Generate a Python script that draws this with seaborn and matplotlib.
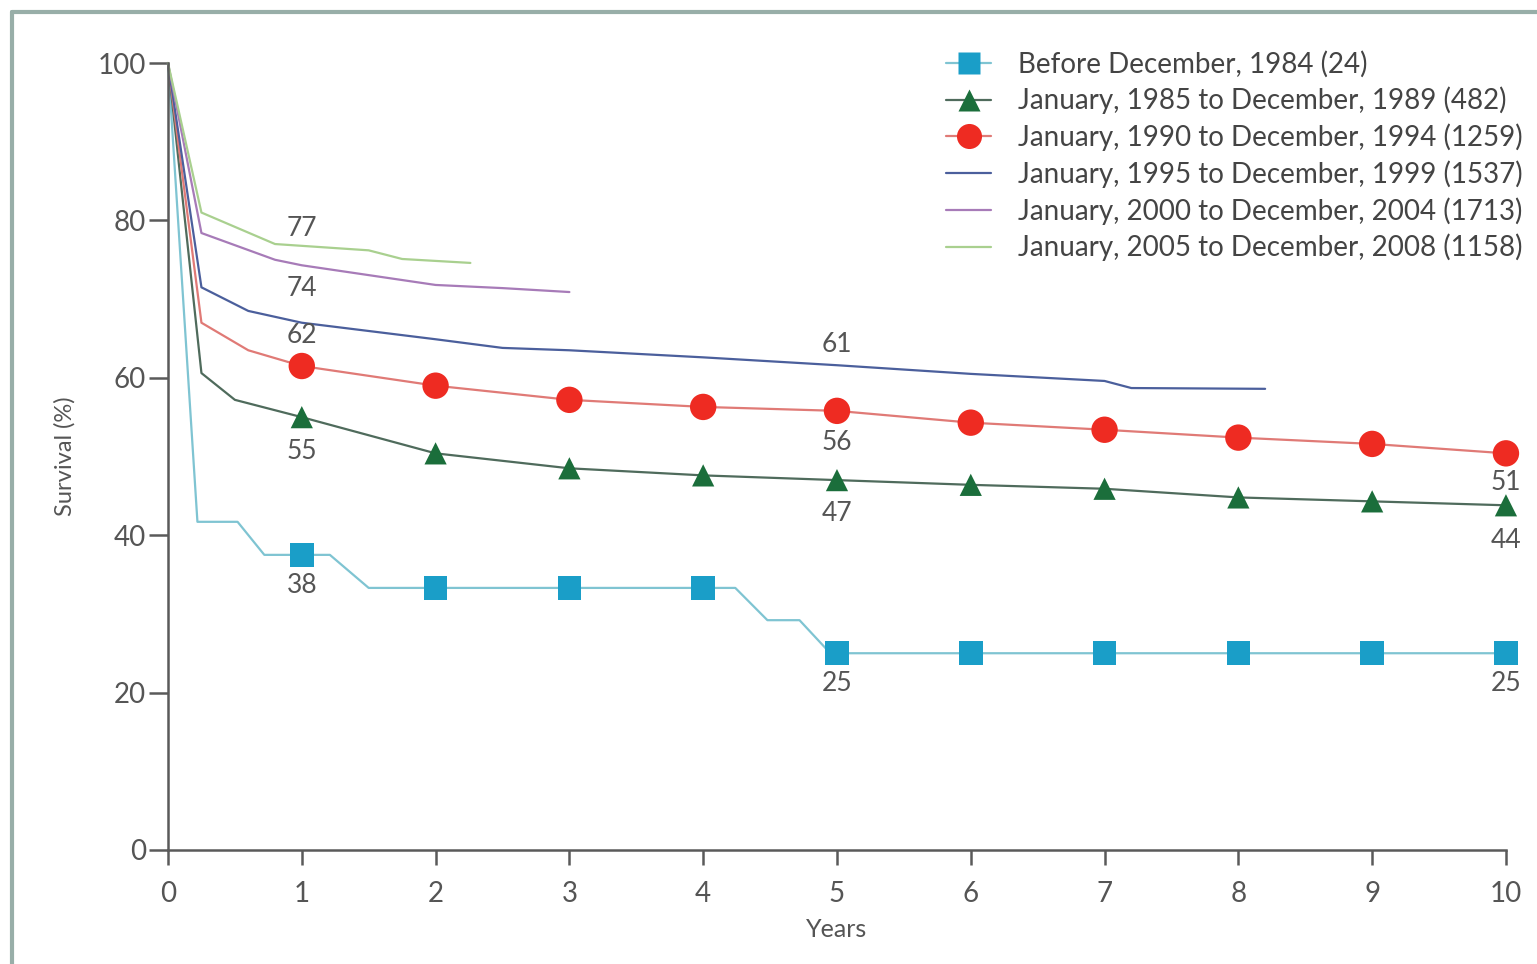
import matplotlib.pyplot as plt
from matplotlib.lines import Line2D
import numpy as np
import pandas as pd
import seaborn as sns

# survival curves (years, % surviving)
t_pre85 = [0, 0.22, 0.52, 0.72, 1.21, 1.5, 4.24, 4.48, 4.72, 4.95, 10]
s_pre85 = [100, 41.7, 41.7, 37.5, 37.5, 33.3, 33.3, 29.2, 29.2, 25.0, 25.0]
t_85_89 = [0, 0.25, 0.5, 1, 2, 3, 4, 5, 6, 7, 8, 9, 10]
s_85_89 = [100, 60.6, 57.2, 55.0, 50.4, 48.5, 47.6, 47.0, 46.4, 45.9, 44.8, 44.3, 43.8]
t_90_94 = [0, 0.25, 0.6, 1, 2, 3, 4, 5, 6, 7, 8, 9, 10]
s_90_94 = [100, 67.0, 63.5, 61.5, 59.0, 57.2, 56.3, 55.8, 54.3, 53.4, 52.4, 51.6, 50.4]
t_95_99 = [0, 0.25, 0.6, 1, 2, 2.5, 3, 4, 5, 6, 7, 7.2, 8.2]
s_95_99 = [100, 71.5, 68.5, 67.0, 64.9, 63.8, 63.5, 62.6, 61.6, 60.5, 59.6, 58.7, 58.6]
t_00_04 = [0, 0.25, 0.8, 1, 2, 2.5, 3]
s_00_04 = [100, 78.4, 75.0, 74.3, 71.8, 71.4, 70.9]
t_05_08 = [0, 0.25, 0.8, 1.5, 1.75, 2.26]
s_05_08 = [100, 81.0, 77.0, 76.2, 75.1, 74.6]

# yearly markers
years = [1, 2, 3, 4, 5, 6, 7, 8, 9, 10]
m_pre85 = [37.5, 33.3, 33.3, 33.3, 25.0, 25.0, 25.0, 25.0, 25.0, 25.0]
m_85_89 = [55.0, 50.4, 48.5, 47.6, 47.0, 46.4, 45.9, 44.8, 44.3, 43.8]
m_90_94 = [61.5, 59.0, 57.2, 56.3, 55.8, 54.3, 53.4, 52.4, 51.6, 50.4]

labels = [
    "Before December, 1984 (24)",
    "January, 1985 to December, 1989 (482)",
    "January, 1990 to December, 1994 (1259)",
    "January, 1995 to December, 1999 (1537)",
    "January, 2000 to December, 2004 (1713)",
    "January, 2005 to December, 2008 (1158)",
]

# (x, y, text, offset in points)
annots = [
    (1, 76.8, "77", 12),
    (1, 74.3, "74", -17),
    (1, 61.5, "62", 22),
    (5, 61.6, "61", 15),
    (1, 55.0, "55", -25),
    (5, 55.8, "56", -23),
    (5, 47.0, "47", -24),
    (1, 37.5, "38", -22),
    (5, 25.0, "25", -22),
    (10, 50.4, "51", -21),
    (10, 43.8, "44", -25),
    (10, 25.0, "25", -22),
]

sns.set_style("ticks")
plt.rcParams["font.family"] = ["Lato", "DejaVu Sans"]
grey = "#555555"

fig = plt.figure(figsize=(15.37, 9.64), dpi=100)
ax = fig.add_axes([0.1093, 0.1183, 0.8705, 0.8163])

series = [
    (t_pre85, s_pre85, "#7fc4d2", "#1a9ec8", "s", 17, m_pre85),
    (t_85_89, s_85_89, "#4f6b5c", "#1b6e3b", "^", 16, m_85_89),
    (t_90_94, s_90_94, "#e07a76", "#ee2b22", "o", 19, m_90_94),
    (t_95_99, s_95_99, "#4b5f9c", None, None, 0, None),
    (t_00_04, s_00_04, "#a77bb8", None, None, 0, None),
    (t_05_08, s_05_08, "#a9d08f", None, None, 0, None),
]

handles = []
for (t, s, lc, mc, mk, ms, mv), lab in zip(series, labels):
    df = pd.DataFrame({"t": t, "s": s})
    sns.lineplot(data=df, x="t", y="s", ax=ax, color=lc, lw=1.6,
                 estimator=None, sort=False, clip_on=False, zorder=2)
    if mk is not None:
        dm = pd.DataFrame({"t": years, "s": mv})
        sns.scatterplot(data=dm, x="t", y="s", ax=ax, color=mc, marker=mk,
                        s=ms ** 2, edgecolor="none", clip_on=False, zorder=3)
        handles.append(Line2D([], [], color=lc, lw=1.6, marker=mk,
                              markerfacecolor=mc, markeredgecolor="none",
                              markersize=ms * 0.95))
    else:
        handles.append(Line2D([], [], color=lc, lw=1.6))

for x, y, txt, off in annots:
    ax.annotate(txt, (x, y), xytext=(0, off), textcoords="offset points",
                ha="center", va="center", fontsize=19, color=grey)

ax.set_xlim(0, 10)
ax.set_ylim(0, 100)
ax.set_xticks(range(0, 11))
ax.set_yticks(range(0, 101, 20))
sns.despine(ax=ax)
for sp in ("left", "bottom"):
    ax.spines[sp].set_color("#5a5a5a")
    ax.spines[sp].set_linewidth(1.8)
ax.tick_params(axis="y", length=14, width=1.8, color="#5a5a5a", pad=2,
               labelsize=20, labelcolor=grey)
ax.tick_params(axis="x", length=11, width=1.8, color="#5a5a5a", pad=11,
               labelsize=20, labelcolor=grey)
ax.set_xlabel("Years", fontsize=18, color=grey, labelpad=8)
ax.set_ylabel("Survival (%)", fontsize=17, color=grey, labelpad=16)

fig.legend(handles, labels, loc="upper left", bbox_to_anchor=(0.608, 0.959),
           frameon=False, fontsize=20, labelcolor="#444444",
           handlelength=1.65, handletextpad=0.95, labelspacing=0.33,
           borderaxespad=0)

# outer frame (top and left edges visible in the picture)
fc = "#98aea8"
fig.add_artist(Line2D([0.0078, 1], [0.9876, 0.9876], color=fc, lw=3,
                      transform=fig.transFigure))
fig.add_artist(Line2D([0.0078, 0.0078], [0, 0.9876], color=fc, lw=3,
                      transform=fig.transFigure))

fig.savefig("out.png", dpi=100, facecolor="white")
